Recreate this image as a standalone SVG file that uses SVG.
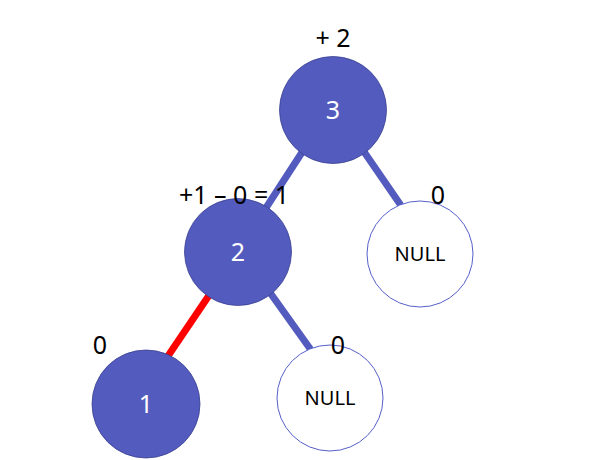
<svg xmlns="http://www.w3.org/2000/svg" width="591" height="460" viewBox="0 0 591 460">
<style>
.e{stroke:#545bbe;stroke-width:7;fill:none}
.r{stroke:#ff0000;stroke-width:7;fill:none}
.f{fill:#545bbe;stroke:#3a4190;stroke-width:0.8}
.n{fill:#ffffff;stroke:#5560c8;stroke-width:1}
.wt{font-family:"Noto Sans",sans-serif;font-size:25px;fill:#ffffff;text-anchor:middle}
.nt{font-family:"Noto Sans",sans-serif;font-size:20px;fill:#000000;text-anchor:middle}
.lb{font-family:"Noto Sans",sans-serif;font-size:25px;fill:#000000;text-anchor:middle}
</style>
<rect width="591" height="460" fill="#ffffff"/>
<g id="connectors">
<line class="e" x1="310" y1="140" x2="262" y2="214"/>
<line class="e" x1="358" y1="143" x2="402" y2="207"/>
<line class="r" x1="214" y1="288" x2="168" y2="356"/>
<line class="e" x1="266" y1="287" x2="311" y2="350"/>
</g>
<g id="node3">
<circle class="f" cx="333" cy="110" r="53.5"/>
<text class="wt" x="333" y="119">3</text>
</g>
<g id="node2">
<circle class="f" cx="238" cy="252" r="53.5"/>
<text class="wt" x="238" y="261">2</text>
</g>
<g id="nullRight">
<circle class="n" cx="420" cy="254" r="53"/>
<text class="nt" x="420" y="261">NULL</text>
</g>
<g id="node1">
<circle class="f" cx="146" cy="404" r="54"/>
<text class="wt" x="146" y="413">1</text>
</g>
<g id="nullBottom">
<circle class="n" cx="330" cy="398" r="53"/>
<text class="nt" x="330" y="405">NULL</text>
</g>
<g id="labels">
<text class="lb" x="333" y="47">+ 2</text>
<text class="lb" x="234" y="204">+1 – 0 = 1</text>
<text class="lb" x="438" y="204">0</text>
<text class="lb" x="100" y="354">0</text>
<text class="lb" x="338" y="354">0</text>
</g>
</svg>
